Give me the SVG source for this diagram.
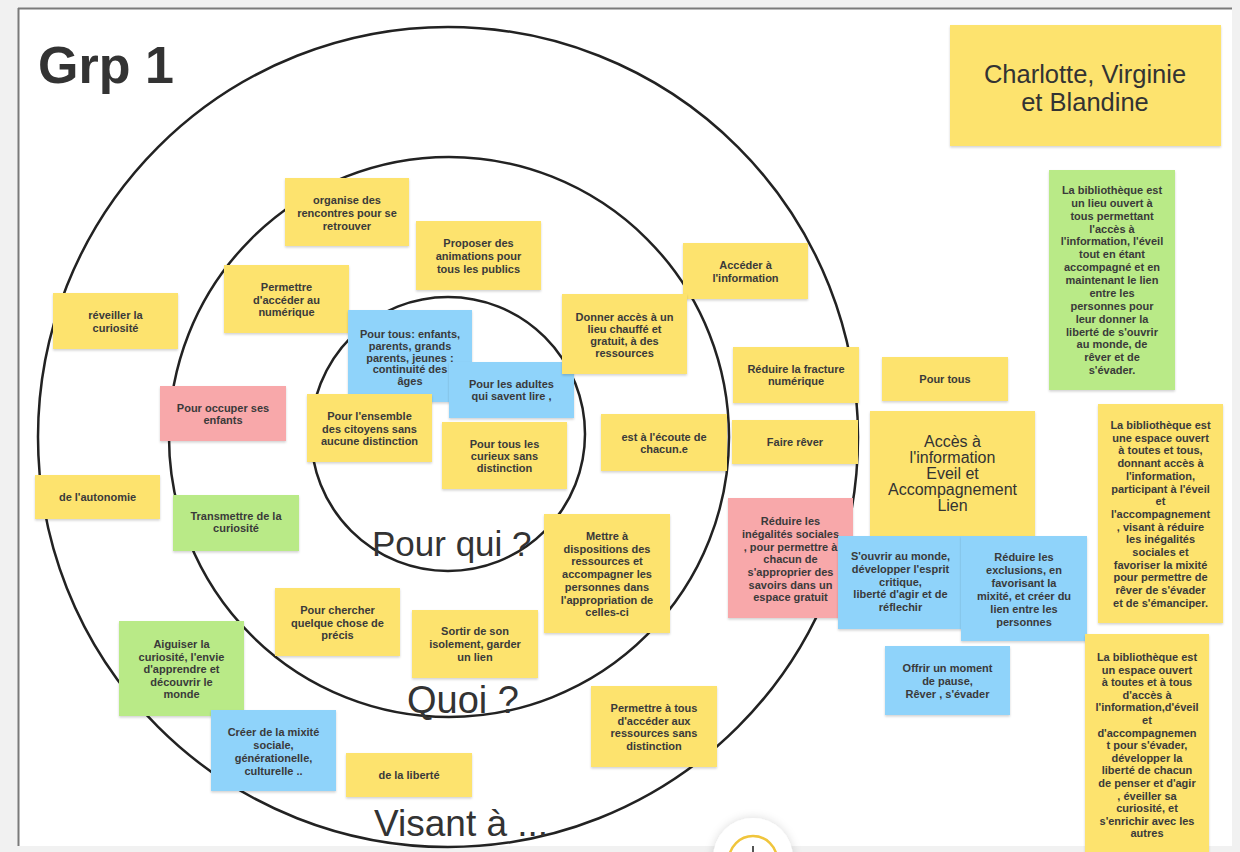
<svg xmlns="http://www.w3.org/2000/svg" width="1240" height="852" viewBox="0 0 1240 852">
<defs>
<filter id="sh" x="-10%" y="-10%" width="120%" height="125%">
<feDropShadow dx="0" dy="1.5" stdDeviation="1.2" flood-color="#000" flood-opacity="0.18"/>
</filter>
<filter id="bsh" x="-50%" y="-50%" width="200%" height="200%">
<feDropShadow dx="0" dy="0" stdDeviation="5" flood-color="#000" flood-opacity="0.15"/>
</filter>
<style>
.y{fill:#fde36e;filter:url(#sh)}
.b{fill:#8fd3fa;filter:url(#sh)}
.g{fill:#b9ea87;filter:url(#sh)}
.p{fill:#f8a8aa;filter:url(#sh)}
.t{font-family:"Liberation Sans",Arial,sans-serif;font-size:11px;font-weight:bold;fill:#3a3a3a;text-anchor:middle}
.big{font-family:"Liberation Sans",Arial,sans-serif;fill:#333}
.ring{fill:none;stroke:#222;stroke-width:2.5}
</style>
</defs>
<rect x="0" y="0" width="1240" height="852" fill="#f1f1f1"/>
<rect x="19" y="9" width="1213" height="837" fill="#ffffff"/>
<line x1="18" y1="8.5" x2="1232" y2="8.5" stroke="#7a7a7a" stroke-width="2"/>
<line x1="18.5" y1="8" x2="18.5" y2="846" stroke="#7a7a7a" stroke-width="2"/>

<g id="rings">
<circle class="ring" cx="448" cy="437" r="410"/>
<circle class="ring" cx="449" cy="437" r="280"/>
<circle class="ring" cx="448" cy="434" r="137"/>
</g>

<text class="big" x="38" y="83" font-size="52" font-weight="bold">Grp 1</text>

<g id="connectors"></g>

<g id="n-charlotte"><rect class="y" x="950" y="25" width="271" height="121"/>
<text class="big" x="1085" y="83" font-size="25.5" text-anchor="middle">Charlotte, Virginie</text>
<text class="big" x="1085" y="111" font-size="25.5" text-anchor="middle">et Blandine</text></g>

<g id="n-green-def"><rect class="g" x="1049" y="170" width="126" height="220"/>
<text class="t"><tspan x="1112" y="194">La bibliothèque est</tspan><tspan x="1112" y="206.9">un lieu ouvert à</tspan><tspan x="1112" y="219.7">tous permettant</tspan><tspan x="1112" y="232.6">l'accès à</tspan><tspan x="1112" y="245.4">l'information, l'éveil</tspan><tspan x="1112" y="258.3">tout en étant</tspan><tspan x="1112" y="271.2">accompagné et en</tspan><tspan x="1112" y="284">maintenant le lien</tspan><tspan x="1112" y="296.9">entre les</tspan><tspan x="1112" y="309.7">personnes pour</tspan><tspan x="1112" y="322.6">leur donner la</tspan><tspan x="1112" y="335.5">liberté de s'ouvrir</tspan><tspan x="1112" y="348.3">au monde, de</tspan><tspan x="1112" y="361.2">rêver et de</tspan><tspan x="1112" y="374">s'évader.</tspan></text></g>

<g id="n-organise"><rect class="y" x="285" y="178" width="124" height="68"/>
<text class="t"><tspan x="347" y="204">organise des</tspan><tspan x="347" y="217">rencontres pour se</tspan><tspan x="347" y="230">retrouver</tspan></text></g>

<g id="n-proposer"><rect class="y" x="416" y="221" width="125" height="69"/>
<text class="t"><tspan x="478.5" y="247">Proposer des</tspan><tspan x="478.5" y="260">animations pour</tspan><tspan x="478.5" y="273">tous les publics</tspan></text></g>

<g id="n-acceder-info"><rect class="y" x="683" y="243" width="125" height="56"/>
<text class="t"><tspan x="745.5" y="269">Accéder à</tspan><tspan x="745.5" y="281.5">l'information</tspan></text></g>

<g id="n-numerique"><rect class="y" x="224" y="265" width="125" height="68"/>
<text class="t"><tspan x="286.5" y="291">Permettre</tspan><tspan x="286.5" y="303.5">d'accéder au</tspan><tspan x="286.5" y="316">numérique</tspan></text></g>

<g id="n-reveiller"><rect class="y" x="53" y="293" width="125" height="56"/>
<text class="t"><tspan x="115.5" y="319">réveiller la</tspan><tspan x="115.5" y="331.5">curiosité</tspan></text></g>

<g id="n-pourtous-blue"><rect class="b" x="348" y="310" width="124" height="92"/>
<text class="t"><tspan x="410" y="338">Pour tous: enfants,</tspan><tspan x="410" y="350">parents, grands</tspan><tspan x="410" y="361.5">parents, jeunes :</tspan><tspan x="410" y="373">continuité des</tspan><tspan x="410" y="385">âges</tspan></text></g>

<g id="n-ensemble"><rect class="y" x="307" y="394" width="125" height="68"/>
<text class="t"><tspan x="369.5" y="420">Pour l'ensemble</tspan><tspan x="369.5" y="432.5">des citoyens sans</tspan><tspan x="369.5" y="445">aucune distinction</tspan></text></g>

<g id="n-adultes"><rect class="b" x="449" y="362" width="125" height="56"/>
<text class="t"><tspan x="511.5" y="388">Pour les adultes</tspan><tspan x="511.5" y="400">qui savent lire ,</tspan></text></g>

<g id="n-curieux"><rect class="y" x="442" y="422" width="125" height="67"/>
<text class="t"><tspan x="504.5" y="448">Pour tous les</tspan><tspan x="504.5" y="460">curieux sans</tspan><tspan x="504.5" y="472">distinction</tspan></text></g>

<g id="n-donner"><rect class="y" x="562" y="294" width="125" height="80"/>
<text class="t"><tspan x="624.5" y="321">Donner accès à un</tspan><tspan x="624.5" y="333">lieu chauffé et</tspan><tspan x="624.5" y="345">gratuit, à des</tspan><tspan x="624.5" y="357">ressources</tspan></text></g>

<g id="n-fracture"><rect class="y" x="733" y="347" width="126" height="56"/>
<text class="t"><tspan x="796" y="373">Réduire la fracture</tspan><tspan x="796" y="385">numérique</tspan></text></g>

<g id="n-pourtous"><rect class="y" x="882" y="357" width="126" height="44"/>
<text class="t" x="945" y="383">Pour tous</text></g>

<g id="n-occuper"><rect class="p" x="160" y="386" width="126" height="55"/>
<text class="t"><tspan x="223" y="412">Pour occuper ses</tspan><tspan x="223" y="424">enfants</tspan></text></g>

<g id="n-ecoute"><rect class="y" x="601" y="414" width="126" height="57"/>
<text class="t"><tspan x="664" y="441">est à l'écoute de</tspan><tspan x="664" y="453">chacun.e</tspan></text></g>

<g id="n-rever"><rect class="y" x="732" y="420" width="126" height="44"/>
<text class="t" x="795" y="446">Faire rêver</text></g>

<g id="n-acces-big"><rect class="y" x="870" y="411" width="165" height="130"/>
<text class="big" font-size="16" text-anchor="middle"><tspan x="952.5" y="446.5">Accès à</tspan><tspan x="952.5" y="462.5">l'information</tspan><tspan x="952.5" y="478.5">Eveil et</tspan><tspan x="952.5" y="494.5">Accompagnement</tspan><tspan x="952.5" y="510.5">Lien</tspan></text></g>

<g id="n-autonomie"><rect class="y" x="35" y="475" width="125" height="44"/>
<text class="t" x="97.5" y="501">de l'autonomie</text></g>

<g id="n-transmettre"><rect class="g" x="173" y="495" width="126" height="56"/>
<text class="t"><tspan x="236" y="520">Transmettre de la</tspan><tspan x="236" y="532">curiosité</tspan></text></g>

<g id="n-mettre"><rect class="y" x="544" y="514" width="126" height="119"/>
<text class="t"><tspan x="607" y="540">Mettre à</tspan><tspan x="607" y="553">dispositions des</tspan><tspan x="607" y="565">ressources et</tspan><tspan x="607" y="578">accompagner les</tspan><tspan x="607" y="591">personnes dans</tspan><tspan x="607" y="604">l'appropriation de</tspan><tspan x="607" y="616">celles-ci</tspan></text></g>

<g id="n-inegalites"><rect class="p" x="728" y="498" width="125" height="120"/>
<text class="t"><tspan x="790.5" y="525">Réduire les</tspan><tspan x="790.5" y="538">inégalités sociales</tspan><tspan x="790.5" y="551">, pour permettre à</tspan><tspan x="790.5" y="563">chacun de</tspan><tspan x="790.5" y="576">s'approprier des</tspan><tspan x="790.5" y="589">savoirs dans un</tspan><tspan x="790.5" y="601">espace gratuit</tspan></text></g>

<g id="n-ouvrir"><rect class="b" x="838" y="536" width="125" height="93"/>
<text class="t"><tspan x="900.5" y="560">S'ouvrir au monde,</tspan><tspan x="900.5" y="573">développer l'esprit</tspan><tspan x="900.5" y="586">critique,</tspan><tspan x="900.5" y="598">liberté d'agir et de</tspan><tspan x="900.5" y="611">réflechir</tspan></text></g>

<g id="n-exclusions"><rect class="b" x="961" y="536" width="126" height="105"/>
<text class="t"><tspan x="1024" y="561">Réduire les</tspan><tspan x="1024" y="574">exclusions, en</tspan><tspan x="1024" y="587">favorisant la</tspan><tspan x="1024" y="600">mixité, et créer du</tspan><tspan x="1024" y="613">lien entre les</tspan><tspan x="1024" y="626">personnes</tspan></text></g>

<g id="n-yellow-def"><rect class="y" x="1098" y="404" width="125" height="219"/>
<text class="t"><tspan x="1160.5" y="429">La bibliothèque est</tspan><tspan x="1160.5" y="441.7">une espace ouvert</tspan><tspan x="1160.5" y="454.4">à toutes et tous,</tspan><tspan x="1160.5" y="467.1">donnant accès à</tspan><tspan x="1160.5" y="479.8">l'information,</tspan><tspan x="1160.5" y="492.5">participant à l'éveil</tspan><tspan x="1160.5" y="505.2">et</tspan><tspan x="1160.5" y="517.9">l'accompagnement</tspan><tspan x="1160.5" y="530.6">, visant à réduire</tspan><tspan x="1160.5" y="543.3">les inégalités</tspan><tspan x="1160.5" y="556">sociales et</tspan><tspan x="1160.5" y="568.7">favoriser la mixité</tspan><tspan x="1160.5" y="581.4">pour permettre de</tspan><tspan x="1160.5" y="594.1">rêver de s'évader</tspan><tspan x="1160.5" y="606.8">et de s'émanciper.</tspan></text></g>

<g id="n-chercher"><rect class="y" x="275" y="588" width="125" height="68"/>
<text class="t"><tspan x="337.5" y="614">Pour chercher</tspan><tspan x="337.5" y="626.5">quelque chose de</tspan><tspan x="337.5" y="639">précis</tspan></text></g>

<g id="n-sortir"><rect class="y" x="412" y="610" width="126" height="68"/>
<text class="t"><tspan x="475" y="635">Sortir de son</tspan><tspan x="475" y="648">isolement, garder</tspan><tspan x="475" y="661">un lien</tspan></text></g>

<g id="n-aiguiser"><rect class="g" x="119" y="621" width="125" height="95"/>
<text class="t"><tspan x="181.5" y="648">Aiguiser la</tspan><tspan x="181.5" y="660.5">curiosité, l'envie</tspan><tspan x="181.5" y="673">d'apprendre et</tspan><tspan x="181.5" y="685.5">découvrir le</tspan><tspan x="181.5" y="698">monde</tspan></text></g>

<g id="n-mixite"><rect class="b" x="211" y="710" width="125" height="81"/>
<text class="t"><tspan x="273.5" y="736">Créer de la mixité</tspan><tspan x="273.5" y="749">sociale,</tspan><tspan x="273.5" y="762">générationelle,</tspan><tspan x="273.5" y="775">culturelle ..</tspan></text></g>

<g id="n-liberte"><rect class="y" x="346" y="753" width="126" height="44"/>
<text class="t" x="409" y="779">de la liberté</text></g>

<g id="n-permettre-tous"><rect class="y" x="591" y="686" width="126" height="81"/>
<text class="t"><tspan x="654" y="712">Permettre à tous</tspan><tspan x="654" y="725">d'accéder aux</tspan><tspan x="654" y="737">ressources sans</tspan><tspan x="654" y="750">distinction</tspan></text></g>

<g id="n-offrir"><rect class="b" x="885" y="646" width="125" height="69"/>
<text class="t"><tspan x="947.5" y="672">Offrir un moment</tspan><tspan x="947.5" y="685">de pause,</tspan><tspan x="947.5" y="698">Rêver , s'évader</tspan></text></g>

<g id="n-yellow-def2"><rect class="y" x="1085" y="634" width="124" height="222"/>
<text class="t"><tspan x="1147" y="661">La bibliothèque est</tspan><tspan x="1147" y="673.6">un espace ouvert</tspan><tspan x="1147" y="686.2">à toutes et à tous</tspan><tspan x="1147" y="698.8">d'accès à</tspan><tspan x="1147" y="711.4">l'information,d'éveil</tspan><tspan x="1147" y="724">et</tspan><tspan x="1147" y="736.6">d'accompagnemen</tspan><tspan x="1147" y="749.2">t pour s'évader,</tspan><tspan x="1147" y="761.8">développer la</tspan><tspan x="1147" y="774.4">liberté de chacun</tspan><tspan x="1147" y="787">de penser et d'agir</tspan><tspan x="1147" y="799.6">, éveiller sa</tspan><tspan x="1147" y="812.2">curiosité, et</tspan><tspan x="1147" y="824.8">s'enrichir avec les</tspan><tspan x="1147" y="837.4">autres</tspan></text></g>

<text class="big" x="372" y="556" font-size="35">Pour qui ?</text>
<text class="big" x="407" y="713" font-size="38">Quoi ?</text>
<text class="big" x="374" y="836" font-size="37">Visant à ...</text>

<g id="button">
<circle cx="753" cy="858" r="40" fill="#ffffff" filter="url(#bsh)"/>
<circle cx="753" cy="860" r="24" fill="#ffffff" stroke="#f0c53c" stroke-width="2.5"/>
<line x1="753" y1="846" x2="753" y2="852" stroke="#555" stroke-width="2"/>
</g>
</svg>
